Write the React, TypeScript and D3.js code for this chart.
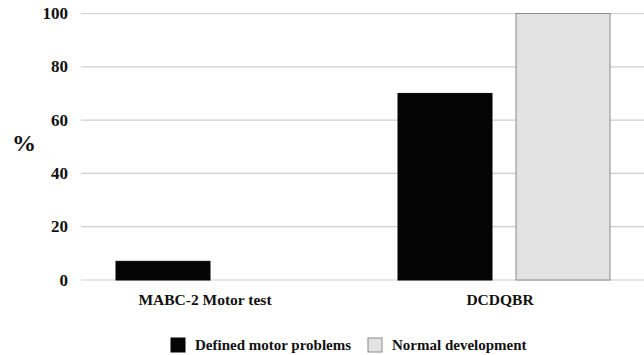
import React from "react";
import * as d3 from "d3";

const categories = ["MABC-2 Motor test", "DCDQBR"];
const seriesNames = ["Defined motor problems", "Normal development"];
const definedMotor = [7, 70];
const normalDev = [0, 100];
const yTicks = [0, 20, 40, 60, 80, 100];

const W = 644;
const H = 355;
const FONT = '"Liberation Serif", "Times New Roman", Times, serif';

export default function App() {
  const left = 81;
  const right = 645;
  const top = 13.5;
  const bottom = 280;
  const x0 = d3.scaleBand<string>().domain(categories).range([left, right]).paddingInner(0).paddingOuter(0);
  const y = d3.scaleLinear().domain([0, 100]).range([bottom, top]);
  const barW = 94;
  const gap = 24;
  const series = [
    { name: seriesNames[0], values: definedMotor, fill: "#050505", stroke: "#050505" },
    { name: seriesNames[1], values: normalDev, fill: "#e3e3e3", stroke: "#8a8a8a" },
  ];
  const labelDx = [-17, -4];
  const ts: React.CSSProperties = { fontFamily: FONT, fontWeight: 700 };

  return (
    <div style={{ position: "absolute", left: 0, top: 0 }}>
      <svg width={W} height={H} style={{ display: "block", background: "#fff" }}>
        {yTicks.map((t) => (
          <g key={t}>
            <line x1={left} x2={W} y1={y(t)} y2={y(t)} stroke="#cfcfcf" strokeWidth={1.2} />
            <text x={68} y={y(t)} dy="0.33em" textAnchor="end" fontSize={17} style={ts} fill="#111">
              {t}
            </text>
          </g>
        ))}
        <text x={24} y={143} dy="0.35em" textAnchor="middle" fontSize={24} style={ts} fill="#111">
          %
        </text>
        {categories.map((c, i) => {
          const cx = (x0(c) as number) + x0.bandwidth() / 2;
          return (
            <g key={c}>
              {series.map((s, j) => {
                const v = s.values[i];
                if (v <= 0) return null;
                const bx = cx - gap / 2 - barW + j * (barW + gap);
                return (
                  <rect
                    key={s.name}
                    x={bx}
                    y={y(v)}
                    width={barW}
                    height={y(0) - y(v)}
                    fill={s.fill}
                    stroke={s.stroke}
                    strokeWidth={1}
                  />
                );
              })}
              <text x={cx + labelDx[i]} y={305} textAnchor="middle" fontSize={15.5} style={ts} fill="#111">
                {c}
              </text>
            </g>
          );
        })}
        {series.map((s, j) => {
          const lx = [171, 368][j];
          return (
            <g key={s.name}>
              <rect x={lx} y={338} width={14} height={14} fill={s.fill} stroke={s.stroke} strokeWidth={1} />
              <text x={lx + 24} y={350} fontSize={15} style={ts} fill="#111">
                {s.name}
              </text>
            </g>
          );
        })}
      </svg>
    </div>
  );
}
